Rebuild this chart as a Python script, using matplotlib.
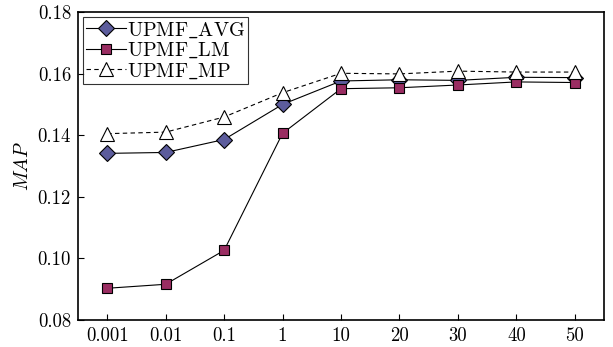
import matplotlib
matplotlib.use("Agg")
import matplotlib.pyplot as plt

# data
x_labels = ["0.001", "0.01", "0.1", "1", "10", "20", "30", "40", "50"]
upmf_avg = [0.1341, 0.1344, 0.1386, 0.1500, 0.1576, 0.1580, 0.1578, 0.1588, 0.1587]
upmf_lm = [0.0903, 0.0916, 0.1026, 0.1406, 0.1551, 0.1554, 0.1563, 0.1573, 0.1571]
upmf_mp = [0.1405, 0.1410, 0.1459, 0.1538, 0.1601, 0.1599, 0.1608, 0.1605, 0.1605]
y_ticks = [0.08, 0.10, 0.12, 0.14, 0.16, 0.18]

plt.rcParams['font.family'] = 'serif'
plt.rcParams['font.serif'] = ['cmr10', 'DejaVu Serif']
plt.rcParams['mathtext.fontset'] = 'cm'
plt.rcParams['axes.unicode_minus'] = False

fig = plt.figure(figsize=(6.13, 3.47), dpi=100)
ax = fig.add_axes([78/613, 1 - 320/347, (604-78)/613, (320-12)/347])

xs = list(range(len(x_labels)))
# cmr10 has no underscore glyph, so labels go through mathtext
ax.plot(xs, upmf_avg, '-', color='black', lw=0.8, marker='D', ms=8,
        mfc='#5c5c9c', mec='black', mew=0.8, label=r'$\mathrm{UPMF\_AVG}$')
ax.plot(xs, upmf_lm, '-', color='black', lw=0.8, marker='s', ms=7,
        mfc='#9a2d62', mec='black', mew=0.8, label=r'$\mathrm{UPMF\_LM}$')
ax.plot(xs, upmf_mp, '--', color='black', lw=0.8, marker='^', ms=10,
        mfc='white', mec='black', mew=0.8, label=r'$\mathrm{UPMF\_MP}$', dashes=(4, 3))

ax.set_xlim(-0.5, len(x_labels) - 0.5)
ax.set_ylim(0.08, 0.18)
ax.set_xticks(xs)
ax.set_xticklabels(x_labels)
ax.set_yticks(y_ticks)
ax.set_yticklabels(["%.2f" % v for v in y_ticks])
ax.tick_params(direction='in', length=4, width=0.8, labelsize=13.5, pad=5,
               top=False, right=False)
ax.set_ylabel('$MAP$', fontsize=14)
for s in ax.spines.values():
    s.set_linewidth(1.2)

leg = ax.legend(loc='upper left', fontsize=14.5, frameon=True, fancybox=False,
                edgecolor='black', borderpad=0.15, labelspacing=0.05,
                handlelength=2.0, handletextpad=0.05, borderaxespad=0.25)
leg.get_frame().set_linewidth(0.8)

fig.savefig('out.png', dpi=100)
